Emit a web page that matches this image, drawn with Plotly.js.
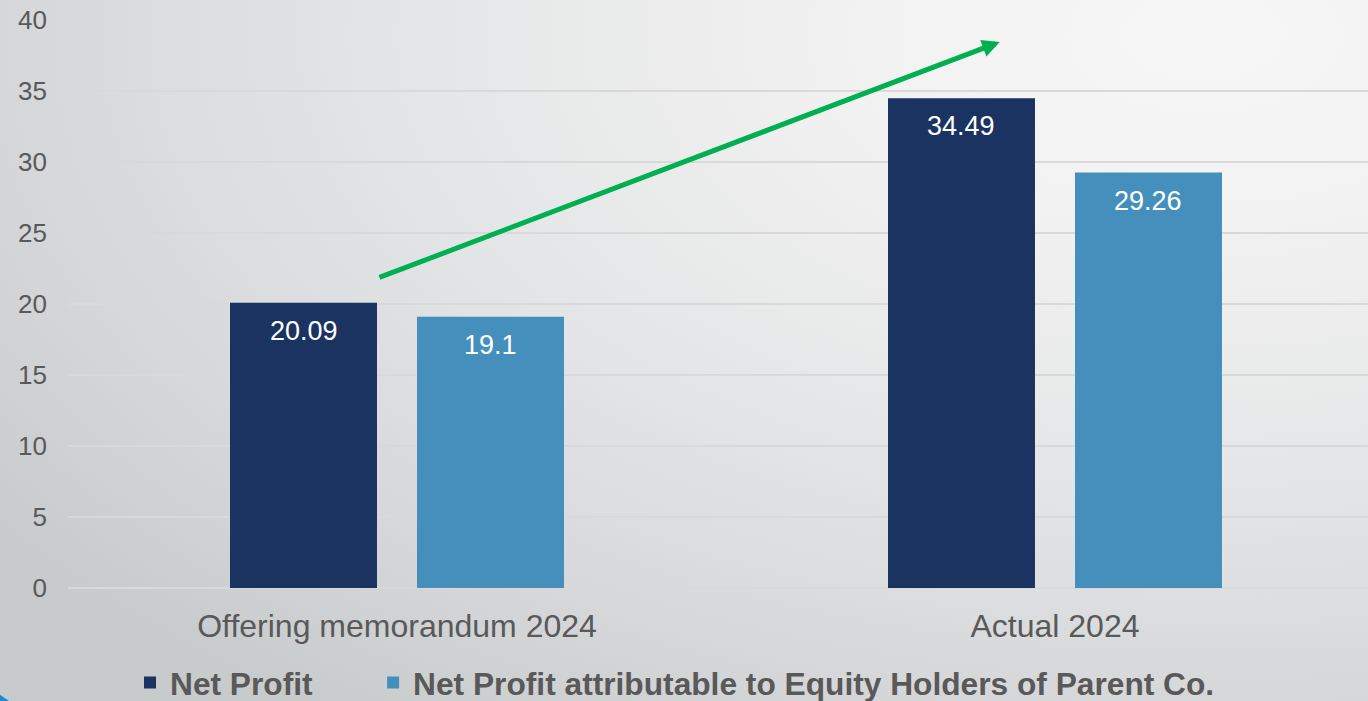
<!DOCTYPE html>
<html>
<head>
<meta charset="utf-8">
<script src="https://cdn.plot.ly/plotly-3.0.1.min.js"></script>
<style>
  html, body { margin: 0; padding: 0; width: 1368px; height: 701px; overflow: hidden; }
  body {
    background: radial-gradient(ellipse 110% 120% at 88% 5%, #f7f7f7 0%, #f1f1f1 25%, #e5e6e7 52%, #d6d8d9 78%, #c8cbcc 100%);
    position: relative;
  }
  #chart { width: 1368px; height: 701px; }
  #corner {
    position: absolute; left: 0; bottom: 0; width: 9px; height: 9px;
    background: #1a8bd0; clip-path: polygon(0 30%, 100% 100%, 0 100%);
  }
</style>
</head>
<body>
<div id="chart"></div>
<div id="corner"></div>
<script>
const categories = ['Offering memorandum 2024', 'Actual 2024'];
const seriesNames = ['Net Profit', 'Net Profit attributable to Equity Holders of Parent Co.'];
const netProfit = [20.09, 34.49];
const netProfitParent = [19.1, 29.26];
const valueLabels = [['20.09', '34.49'], ['19.1', '29.26']];
const yTickVals = [0, 5, 10, 15, 20, 25, 30, 35, 40];

const colors = ['#1b3361', '#458fbc'];
const seriesValues = [netProfit, netProfitParent];
const legendIds = ['legend', 'legend2'];

const traces = seriesValues.map((vals, s) => ({
  type: 'bar',
  name: seriesNames[s],
  x: categories,
  y: vals,
  legend: legendIds[s],
  marker: { color: colors[s], line: { width: 0 } },
  hoverinfo: 'skip'
}));

const annotations = [];
seriesValues.forEach((vals, s) => {
  vals.forEach((v, i) => {
    annotations.push({
      x: categories[i], y: v, xref: 'x', yref: 'y',
      text: valueLabels[s][i], showarrow: false,
      xshift: s === 0 ? -93.5 : 93.5, yshift: -28, yanchor: 'middle',
      font: { family: 'Arial, Liberation Sans, sans-serif', size: 27, color: '#ffffff' }
    });
  });
});

// trend arrow
annotations.push({
  x: 0.916, y: 38.45, ax: -0.029, ay: 21.83,
  xref: 'x', yref: 'y', axref: 'x', ayref: 'y',
  showarrow: true, arrowhead: 2, arrowsize: 0.7, arrowwidth: 5,
  arrowcolor: '#00b050', text: ''
});

const legendFont = { size: 31.7, color: '#595959', weight: 'bold' };
const layout = {
  width: 1368, height: 701,
  paper_bgcolor: 'rgba(0,0,0,0)', plot_bgcolor: 'rgba(0,0,0,0)',
  margin: { l: 68, r: 0, t: 20, b: 113, autoexpand: false },
  barmode: 'group', bargap: 0.4316, bargroupgap: 0.214,
  font: { family: 'Arial, Liberation Sans, sans-serif', color: '#595959' },
  xaxis: {
    type: 'category', range: [-0.5, 1.4757], fixedrange: true,
    showgrid: false, zeroline: false, showline: false, ticks: '',
    tickfont: { size: 32, color: '#595959' }, ticklabelstandoff: 16
  },
  yaxis: {
    range: [0, 40], tickvals: yTickVals, fixedrange: true,
    showgrid: true, gridcolor: '#d9d9d9', gridwidth: 2,
    zeroline: true, zerolinecolor: '#d9d9d9', zerolinewidth: 2,
    showline: false, ticks: '',
    tickfont: { size: 26, color: '#595959' }, ticklabelstandoff: 20
  },
  showlegend: true,
  legend: {
    orientation: 'h', x: 0.0477, xanchor: 'left', y: -0.167, yanchor: 'middle',
    font: legendFont, bgcolor: 'rgba(0,0,0,0)', itemclick: false, itemdoubleclick: false
  },
  legend2: {
    orientation: 'h', x: 0.2347, xanchor: 'left', y: -0.167, yanchor: 'middle',
    font: legendFont, bgcolor: 'rgba(0,0,0,0)', itemclick: false, itemdoubleclick: false
  },
  annotations: annotations
};

Plotly.newPlot('chart', traces, layout, { displayModeBar: false, staticPlot: true });
</script>
</body>
</html>
